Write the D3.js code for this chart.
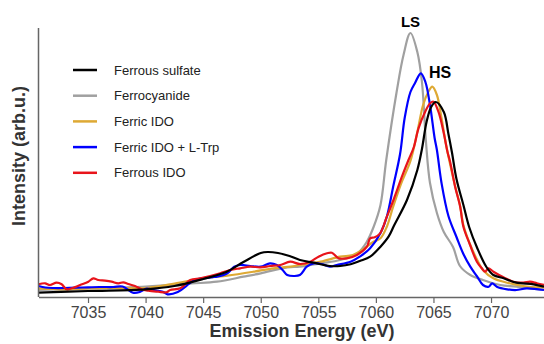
<!DOCTYPE html>
<html>
<head>
<meta charset="utf-8">
<script src="https://cdn.jsdelivr.net/npm/d3@7"></script>
<style>
  body { margin: 0; background: #fff; }
  svg { display: block; font-family: "Liberation Sans", Arial, sans-serif; }
</style>
</head>
<body>
<svg id="chart" width="544" height="344"></svg>
<script>
// x tick labels
var xTicks = [7035, 7040, 7045, 7050, 7055, 7060, 7065, 7070];

// Ferrous sulfate (black)
var sulfateE = [7030.7, 7035, 7040, 7042.5, 7045, 7047, 7048.5, 7050, 7050.6, 7051.5, 7052.5, 7053.4, 7054.6, 7056, 7056.9, 7057.8, 7058.6, 7059.5, 7060.4, 7061.1, 7061.6, 7062.7, 7063.6, 7064.0, 7064.4, 7064.8, 7065.2, 7065.9, 7066.3, 7066.6, 7067.0, 7067.6, 7068.1, 7068.8, 7069.6, 7070.2, 7071.1, 7072.2, 7073.7, 7074.6];
var sulfateI = [4.3, 6, 7.7, 11, 18, 25, 35, 44, 45, 44, 41, 37, 34.3, 31, 31, 32.7, 36, 40.3, 50.3, 60.3, 72, 97, 127, 148, 175, 190, 195, 185, 163, 145, 118, 92, 70, 49, 30, 22, 18.7, 14.3, 12.7, 10.3];

// Ferrocyanide (gray)
var cyanideE = [7030.7, 7035, 7040, 7044, 7046.2, 7048.5, 7050, 7052.3, 7053.4, 7055.2, 7056.9, 7058.4, 7059.2, 7059.8, 7060.4, 7060.9, 7061.8, 7062.4, 7063.0, 7063.6, 7064.0, 7064.35, 7064.7, 7065.3, 7065.9, 7066.7, 7067.3, 7068.2, 7069.3, 7070.8, 7072.2, 7074.6];
var cyanideI = [7, 8.5, 10.5, 13.5, 15.3, 20.3, 23.7, 29.7, 30.3, 33.7, 37, 43.7, 55, 70, 92, 137, 205, 242, 264, 245, 215, 155, 114, 84, 65, 50, 31, 22, 17, 12, 10.3, 7];

// Ferric IDO (orange)
var fericE = [7030.7, 7032, 7033, 7035, 7037, 7040, 7042, 7043, 7044.2, 7045.5, 7047.1, 7049.4, 7051.1, 7052.6, 7053.4, 7055.2, 7056.9, 7058, 7058.8, 7059.8, 7060.4, 7060.95, 7061.5, 7062.2, 7063, 7063.6, 7064.1, 7064.55, 7064.9, 7065.3, 7065.7, 7066.1, 7066.9, 7067.3, 7067.6, 7068.2, 7068.8, 7069.3, 7070.2, 7071.4, 7072.8, 7074.6];
var fericI = [8.7, 8, 7.7, 8.5, 9, 9, 12.3, 14.5, 17, 19.5, 21.3, 25.3, 28.7, 30.3, 32, 35.3, 40.3, 42, 47, 55.3, 58.7, 70.3, 90.3, 113.7, 136, 165, 192, 205, 210.3, 202, 179, 152, 110, 92, 72, 52, 37, 27, 18.7, 14.3, 11, 9.3];

// Ferric IDO + L-Trp (blue)
var trpE = [7030.7, 7031.3, 7032, 7033, 7034.5, 7036, 7037.2, 7038, 7038.9, 7039.5, 7040.1, 7040.8, 7041.5, 7041.9, 7042.8, 7043.6, 7044.2, 7044.75, 7045.9, 7046.2, 7047.1, 7047.7, 7048.2, 7049.1, 7050, 7050.8, 7051.4, 7051.9, 7052.3, 7052.9, 7053.4, 7054, 7054.6, 7055.3, 7056, 7056.6, 7057.8, 7058.6, 7059.5, 7060.4, 7060.95, 7061.5, 7062.1, 7062.5, 7063, 7063.4, 7063.9, 7064.3, 7064.7, 7065.1, 7065.3, 7065.7, 7066.3, 7067, 7067.6, 7068.2, 7068.8, 7069.3, 7069.8, 7070.1, 7070.5, 7071.4, 7072.2, 7073.1, 7074.6];
var trpI = [11, 9.5, 9, 9, 9.5, 10, 10, 10.5, 4.3, 5, 8.3, 6.7, 5.3, 2.7, 5, 11.7, 16.7, 18.3, 20, 20.3, 23.7, 30.3, 32, 31, 30.3, 33.7, 32, 27, 22, 21, 22, 30.3, 33.7, 33, 30.3, 32, 35.3, 40.3, 48.7, 64, 80.3, 110.3, 143, 179, 205, 214, 223.7, 215, 192, 159, 147, 114, 81, 60, 43, 30.3, 20.3, 12, 10.3, 13.7, 10.3, 7.7, 7, 8.7, 7];

// Ferrous IDO (red)
var ferrousE = [7030.7, 7031.27, 7031.7, 7032.27, 7032.71, 7033.14, 7033.58, 7034.31, 7035.03, 7035.46, 7035.89, 7036.48, 7037.05, 7037.63, 7038.06, 7038.5, 7039.08, 7039.65, 7040.23, 7041.1, 7041.82, 7042.14, 7043.01, 7043.88, 7044.75, 7045.61, 7046.48, 7047.35, 7048.22, 7049.09, 7049.96, 7050.82, 7051.69, 7052.56, 7053.43, 7054.3, 7055.02, 7055.75, 7056.18, 7056.75, 7057.48, 7058.35, 7059.22, 7059.5, 7059.9, 7060.37, 7060.95, 7061.53, 7062.26, 7062.83, 7063.3, 7063.7, 7064.28, 7064.71, 7065, 7065.43, 7065.87, 7066.22, 7066.45, 7066.88, 7067.32, 7067.6, 7068.18, 7068.77, 7069.2, 7069.49, 7069.77, 7070.21, 7071.08, 7071.94, 7072.81, 7073.39, 7073.98, 7074.6];
var ferrousI = [12.7, 13.7, 12, 14.3, 12.7, 7.7, 8.7, 12, 15.3, 18.7, 17, 16.3, 15.3, 13.7, 14.7, 13, 11, 7.7, 6.3, 5.3, 4.7, 7, 8.7, 17, 18.7, 21, 23.7, 27, 28.7, 30.3, 29.7, 31, 32, 35.3, 33, 35.3, 40.3, 43.7, 44.3, 38.7, 38.7, 42, 50.3, 58.7, 59.7, 63.7, 80.3, 97, 120.3, 137, 150, 168.7, 185.3, 193.7, 195.3, 185.3, 165.3, 145, 135, 110.3, 90.3, 70.3, 52, 35.3, 28.7, 25.3, 28.7, 25.3, 19.7, 15.3, 14.3, 15.3, 13.7, 12];

var seriesNames = ["Ferrous sulfate", "Ferrocyanide", "Ferric IDO", "Ferric IDO + L-Trp", "Ferrous IDO"];
var seriesColors = ["#000000", "#a0a0a0", "#dea934", "#0000ff", "#e8141b"];

var series = [
  {name: seriesNames[0], color: seriesColors[0], e: sulfateE, v: sulfateI},
  {name: seriesNames[1], color: seriesColors[1], e: cyanideE, v: cyanideI},
  {name: seriesNames[2], color: seriesColors[2], e: fericE, v: fericI},
  {name: seriesNames[3], color: seriesColors[3], e: trpE, v: trpI},
  {name: seriesNames[4], color: seriesColors[4], e: ferrousE, v: ferrousI}
];

var svg = d3.select("#chart");

var x = d3.scaleLinear().domain([7030.7, 7074.6]).range([38.5, 544]);
var y = d3.scaleLinear().domain([0, 269]).range([297, 28]);

var line = d3.line()
  .x(function(d) { return x(d[0]); })
  .y(function(d) { return y(d[1]); })
  .curve(d3.curveCatmullRom.alpha(0.5));

// draw order: gray, orange, blue, red, black on top
var drawOrder = [1, 2, 3, 4, 0];
var plot = svg.append("g");
drawOrder.forEach(function(i) {
  var s = series[i];
  var pts = s.e.map(function(e, k) { return [e, s.v[k]]; });
  plot.append("path")
    .datum(pts)
    .attr("fill", "none")
    .attr("stroke", s.color)
    .attr("stroke-width", 2.2)
    .attr("stroke-linejoin", "round")
    .attr("d", line);
});

// axes
var xAxis = svg.append("g")
  .attr("transform", "translate(0,297)")
  .call(d3.axisBottom(x).tickValues(xTicks).tickSize(6).tickSizeOuter(0).tickFormat(d3.format("d")));
xAxis.select(".domain").attr("stroke", "#666").attr("stroke-width", 1.5);
xAxis.selectAll(".tick line").attr("stroke", "#666").attr("stroke-width", 1.2);
xAxis.selectAll(".tick text")
  .attr("y", 10)
  .attr("fill", "#444")
  .style("font-size", "16px")
  .style("font-family", "Liberation Sans, Arial, sans-serif");

svg.append("line")
  .attr("x1", 38.5).attr("x2", 38.5)
  .attr("y1", 28).attr("y2", 297)
  .attr("stroke", "#666").attr("stroke-width", 1.5);

// axis titles
svg.append("text")
  .attr("x", 302).attr("y", 337)
  .attr("text-anchor", "middle")
  .attr("fill", "#333")
  .style("font-size", "18px").style("font-weight", "bold")
  .text("Emission Energy (eV)");

svg.append("text")
  .attr("transform", "translate(25,156) rotate(-90)")
  .attr("text-anchor", "middle")
  .attr("fill", "#333")
  .style("font-size", "18px").style("font-weight", "bold")
  .text("Intensity (arb.u.)");

// peak labels
svg.append("text")
  .attr("x", 410.5).attr("y", 27)
  .attr("text-anchor", "middle")
  .style("font-size", "15px").style("font-weight", "bold")
  .text("LS");
svg.append("text")
  .attr("x", 440).attr("y", 78)
  .attr("text-anchor", "middle")
  .style("font-size", "16px").style("font-weight", "bold")
  .text("HS");

// legend
var legend = svg.append("g").attr("transform", "translate(73,70)");
series.forEach(function(s, i) {
  var g = legend.append("g").attr("transform", "translate(0," + (i * 25.7) + ")");
  g.append("line")
    .attr("x1", 0).attr("x2", 24)
    .attr("y1", 0).attr("y2", 0)
    .attr("stroke", s.color).attr("stroke-width", 2.5);
  g.append("text")
    .attr("x", 41).attr("y", 4.5)
    .attr("fill", "#222")
    .style("font-size", "13px")
    .text(s.name);
});
</script>
</body>
</html>
